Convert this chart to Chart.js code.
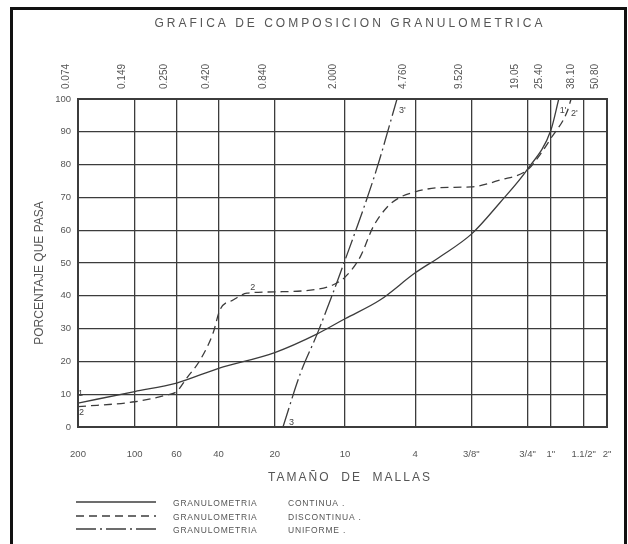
<!DOCTYPE html>
<html>
<head>
<meta charset="utf-8">
<script src="https://cdn.jsdelivr.net/npm/chart.js@4"></script>
<style>
  html, body { margin: 0; padding: 0; background: #fff; }
  #wrap { width: 628px; height: 544px; }
</style>
</head>
<body>
<div id="wrap"><canvas id="chart" width="628" height="544"></canvas></div>
<script>
// aberturas de tamiz (mm) - eje superior
const sieveSizes = [0.074, 0.149, 0.250, 0.420, 0.840, 2.000, 4.760, 9.520, 19.05, 25.40, 38.10, 50.80];
const sieveLabels = ['0.074', '0.149', '0.250', '0.420', '0.840', '2.000', '4.760', '9.520', '19.05', '25.40', '38.10', '50.80'];
// numero de malla - eje inferior
const meshLabels = ['200', '100', '60', '40', '20', '10', '4', '3/8"', '3/4"', '1"', '1.1/2"', '2"'];

// curva 1 - granulometria continua
const continuaSize = [0.074, 0.149, 0.25, 0.42, 0.84, 1.42, 2.0, 3.08, 4.76, 6.5, 9.52, 13.5, 19.05, 25.4, 28.0];
const continuaPct  = [7.3, 10.8, 13.4, 17.9, 22.7, 28.4, 33, 38.7, 47, 52, 58.8, 68.3, 78.6, 90.5, 100];

// curva 2 - granulometria discontinua
const discontinuaSize = [0.074, 0.149, 0.222, 0.25, 0.284, 0.334, 0.392, 0.427, 0.502, 0.596, 0.84, 1.42, 1.72, 2.0, 2.41, 2.83, 3.36, 3.94, 4.76, 6.46, 9.52, 13.55, 19.05, 22.2, 25.4, 31.0, 32.6];
const discontinuaPct  = [6.2, 7.7, 9.8, 10.8, 15, 20.4, 28.6, 35.7, 38.7, 40.8, 41.2, 42, 43.3, 45.7, 51.8, 61, 67, 70, 71.7, 73, 73.2, 75.3, 78.4, 83, 88, 96, 100];

// curva 3 - granulometria uniforme
const uniformeSize = [0.93, 1.147, 1.433, 1.975, 2.932, 3.80];
const uniformePct  = [0, 16, 29, 50, 78, 100];

const INK = '#3c3c3c';
const TXT = '#555';
const FONT = '"Liberation Sans", Arial, sans-serif';

function pts(xs, ys) {
    return xs.map((v, i) => ({ x: v, y: ys[i] }));
}

const series = [
    { label: 'CONTINUA', data: pts(continuaSize, continuaPct), dash: [] },
    { label: 'DISCONTINUA', data: pts(discontinuaSize, discontinuaPct), dash: [8, 5] },
    { label: 'UNIFORME', data: pts(uniformeSize, uniformePct), dash: [20, 4, 2, 4] }
];

// titulo, marco, leyenda y etiquetas de curvas
const decoPlugin = {
    id: 'deco',
    afterDraw(chart) {
        const ctx = chart.ctx;
        const xs = chart.scales.x, ys = chart.scales.y;
        ctx.save();

        // marco exterior
        ctx.strokeStyle = '#111';
        ctx.lineWidth = 3;
        ctx.strokeRect(11.5, 8.5, 614, 560);

        ctx.fillStyle = TXT;
        ctx.textAlign = 'center';
        ctx.textBaseline = 'middle';

        // titulo
        ctx.font = '12px ' + FONT;
        ctx.letterSpacing = '3px';
        ctx.fillText('GRAFICA DE COMPOSICION GRANULOMETRICA', 350, 24);

        // titulo eje x
        ctx.font = '12px ' + FONT;
        ctx.letterSpacing = '2px';
        ctx.fillText('TAMAÑO  DE  MALLAS', 350, 478);

        // titulo eje y
        ctx.letterSpacing = '0px';
        ctx.save();
        ctx.translate(40, 273);
        ctx.rotate(-Math.PI / 2);
        ctx.font = '12px ' + FONT;
        ctx.fillText('PORCENTAJE QUE PASA', 0, 0);
        ctx.restore();

        // leyenda
        const rows = [502, 516, 529];
        ctx.textAlign = 'left';
        ctx.font = '8.5px ' + FONT;
        ctx.letterSpacing = '0.8px';
        series.forEach((s, i) => {
            ctx.strokeStyle = INK;
            ctx.lineWidth = 1.3;
            ctx.setLineDash(s.dash);
            ctx.beginPath();
            ctx.moveTo(76, rows[i]);
            ctx.lineTo(156, rows[i]);
            ctx.stroke();
            ctx.setLineDash([]);
            ctx.fillText('GRANULOMETRIA', 173, rows[i] + 2);
            ctx.fillText(s.label + ' .', 288, rows[i] + 2);
        });

        // etiquetas de extremos de curvas
        ctx.letterSpacing = '0px';
        ctx.font = '9px ' + FONT;
        ctx.fillStyle = '#444';
        const tag = (txt, xv, yv, dx, dy) => {
            ctx.fillText(txt, xs.getPixelForValue(xv) + dx, ys.getPixelForValue(yv) + dy);
        };
        tag('1', continuaSize[0], continuaPct[0], 0, -10);
        tag('2', discontinuaSize[0], discontinuaPct[0], 1, 6);
        tag('2', 0.59, 41, 4, -5);
        tag('3', uniformeSize[0], uniformePct[0], 6, -4);
        tag("1'", continuaSize[continuaSize.length - 1], 100, 1, 12);
        tag("2'", discontinuaSize[discontinuaSize.length - 1], 100, 0, 15);
        tag("3'", uniformeSize[uniformeSize.length - 1], 100, 2, 12);

        ctx.restore();
    }
};

const gridWidth = c => (c.tick && (c.tick.value === 100 || c.tick.value === 0 || c.tick.value === 50.8 || c.tick.value === 0.074) ? 2 : 1.3);

// sin relleno automatico por etiquetas en los extremos
const noEdgePad = s => { s.paddingLeft = 0; s.paddingRight = 0; };

new Chart(document.getElementById('chart'), {
    type: 'line',
    data: {
        datasets: series.map(s => ({
            label: s.label,
            data: s.data,
            borderColor: INK,
            borderWidth: 1.3,
            borderDash: s.dash,
            pointRadius: 0,
            fill: false,
            cubicInterpolationMode: 'monotone'
        }))
    },
    options: {
        responsive: false,
        animation: false,
        devicePixelRatio: 1,
        layout: { padding: { left: 0, right: 21, top: 0, bottom: 0 } },
        plugins: { legend: { display: false }, tooltip: { enabled: false }, title: { display: false } },
        scales: {
            x: {
                type: 'logarithmic',
                position: 'bottom',
                min: 0.074,
                max: 50.8,
                afterBuildTicks: s => { s.ticks = sieveSizes.map(v => ({ value: v })); },
                afterFit: s => { s.height = 117; noEdgePad(s); },
                ticks: {
                    autoSkip: false, minRotation: 0, maxRotation: 0, padding: 22,
                    color: TXT, font: { family: FONT, size: 9.5 },
                    callback: (v, i) => meshLabels[i]
                },
                grid: { color: INK, lineWidth: gridWidth, drawTicks: false },
                border: { color: INK, width: 2 }
            },
            x2: {
                type: 'logarithmic',
                position: 'top',
                min: 0.074,
                max: 50.8,
                afterBuildTicks: s => { s.ticks = sieveSizes.map(v => ({ value: v })); },
                afterFit: s => { s.height = 99; noEdgePad(s); },
                ticks: {
                    autoSkip: false, minRotation: 90, maxRotation: 90, padding: 10,
                    color: TXT, font: { family: FONT, size: 10 },
                    callback: (v, i) => sieveLabels[i]
                },
                grid: { display: false, drawTicks: false },
                border: { color: INK, width: 2 }
            },
            y: {
                min: 0,
                max: 100,
                afterFit: s => { s.width = 78; },
                ticks: {
                    stepSize: 10, padding: 7,
                    color: TXT, font: { family: FONT, size: 9.5 }
                },
                grid: { color: INK, lineWidth: gridWidth, drawTicks: false },
                border: { color: INK, width: 2 }
            }
        }
    },
    plugins: [decoPlugin]
});
</script>
</body>
</html>
